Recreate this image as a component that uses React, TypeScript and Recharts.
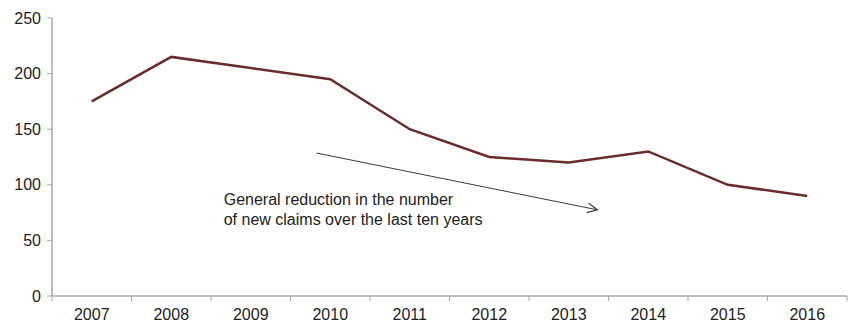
import React from 'react';
import {
  LineChart,
  Line,
  XAxis,
  YAxis,
  ReferenceLine,
  ReferenceDot,
} from 'recharts';

// new claims per year
const years = [2007, 2008, 2009, 2010, 2011, 2012, 2013, 2014, 2015, 2016];
const claims = [175, 215, 205, 195, 150, 125, 120, 130, 100, 90];
const yTicks = [0, 50, 100, 150, 200, 250];
// tick marks sit between the years
const boundaryTicks = [2006.5, 2007.5, 2008.5, 2009.5, 2010.5, 2011.5, 2012.5, 2013.5, 2014.5, 2015.5, 2016.5];

// annotation (data coordinates)
const arrowFrom = { x: 2009.83, y: 128.5 };
const arrowTo = { x: 2013.36, y: 77.5 };
const noteAt = { x: 2008.66, y: 87 };
const noteLines = ['General reduction in the number', 'of new claims over the last ten years'];

const data = years.map((year, i) => ({ year, claims: claims[i] }));

const font = 'Arial, "Liberation Sans", sans-serif';
const axisGrey = '#a6a6a6';
const textColor = '#222';

const MARKS = 'a_marks';
const LABELS = 'b_labels';

const Arrow = (props: any) => {
  const { x1, y1, x2, y2 } = props;
  const ang = Math.atan2(y2 - y1, x2 - x1);
  const len = 11;
  const spread = 0.45;
  const ax = x2 - len * Math.cos(ang - spread);
  const ay = y2 - len * Math.sin(ang - spread);
  const bx = x2 - len * Math.cos(ang + spread);
  const by = y2 - len * Math.sin(ang + spread);
  return (
    <g>
      <line x1={x1} y1={y1} x2={x2} y2={y2} stroke="#3a3a3a" strokeWidth={1} />
      <path d={`M${ax},${ay} L${x2},${y2} L${bx},${by}`} fill="none" stroke="#3a3a3a" strokeWidth={1.2} />
    </g>
  );
};

const Note = (props: any) => {
  const { cx, cy } = props;
  return (
    <text x={cx} y={cy} fontFamily={font} fontSize={16} fill={textColor}>
      {noteLines.map((t, i) => (
        <tspan key={i} x={cx} dy={i === 0 ? 6 : 20}>
          {t}
        </tspan>
      ))}
    </text>
  );
};

const App = () => {
  return (
    <div style={{ width: 846, height: 317 }}>
      <LineChart width={846} height={317} data={data} margin={{ top: 10, right: 7, left: 0, bottom: 0 }}>
        <XAxis
          xAxisId={MARKS}
          dataKey="year"
          type="number"
          domain={[2006.5, 2016.5]}
          ticks={boundaryTicks}
          interval={0}
          height={1}
          axisLine={{ stroke: axisGrey, strokeWidth: 1.5 }}
          tickSize={5}
          tickLine={{ stroke: axisGrey }}
          tick={() => <g />}
          allowDataOverflow
        />
        <XAxis
          xAxisId={LABELS}
          dataKey="year"
          type="number"
          domain={[2006.5, 2016.5]}
          ticks={years}
          interval={0}
          height={28}
          axisLine={false}
          tickLine={false}
          tickMargin={6}
          tick={{ fill: textColor, fontSize: 16, fontFamily: font }}
          allowDataOverflow
        />
        <YAxis
          domain={[0, 250]}
          ticks={yTicks}
          width={44}
          tickSize={5}
          tickMargin={6}
          axisLine={{ stroke: axisGrey, strokeWidth: 1.5 }}
          tickLine={{ stroke: axisGrey }}
          tick={{ fill: textColor, fontSize: 16, fontFamily: font }}
        />
        <Line
          xAxisId={LABELS}
          type="linear"
          dataKey="claims"
          stroke="#6b2b2b"
          strokeWidth={2.5}
          dot={false}
          activeDot={false}
          isAnimationActive={false}
        />
        <ReferenceLine
          xAxisId={LABELS}
          segment={[arrowFrom, arrowTo]}
          shape={Arrow}
          ifOverflow="visible"
        />
        <ReferenceDot
          xAxisId={LABELS}
          x={noteAt.x}
          y={noteAt.y}
          r={0}
          shape={Note}
          ifOverflow="visible"
        />
      </LineChart>
    </div>
  );
};

export default App;
